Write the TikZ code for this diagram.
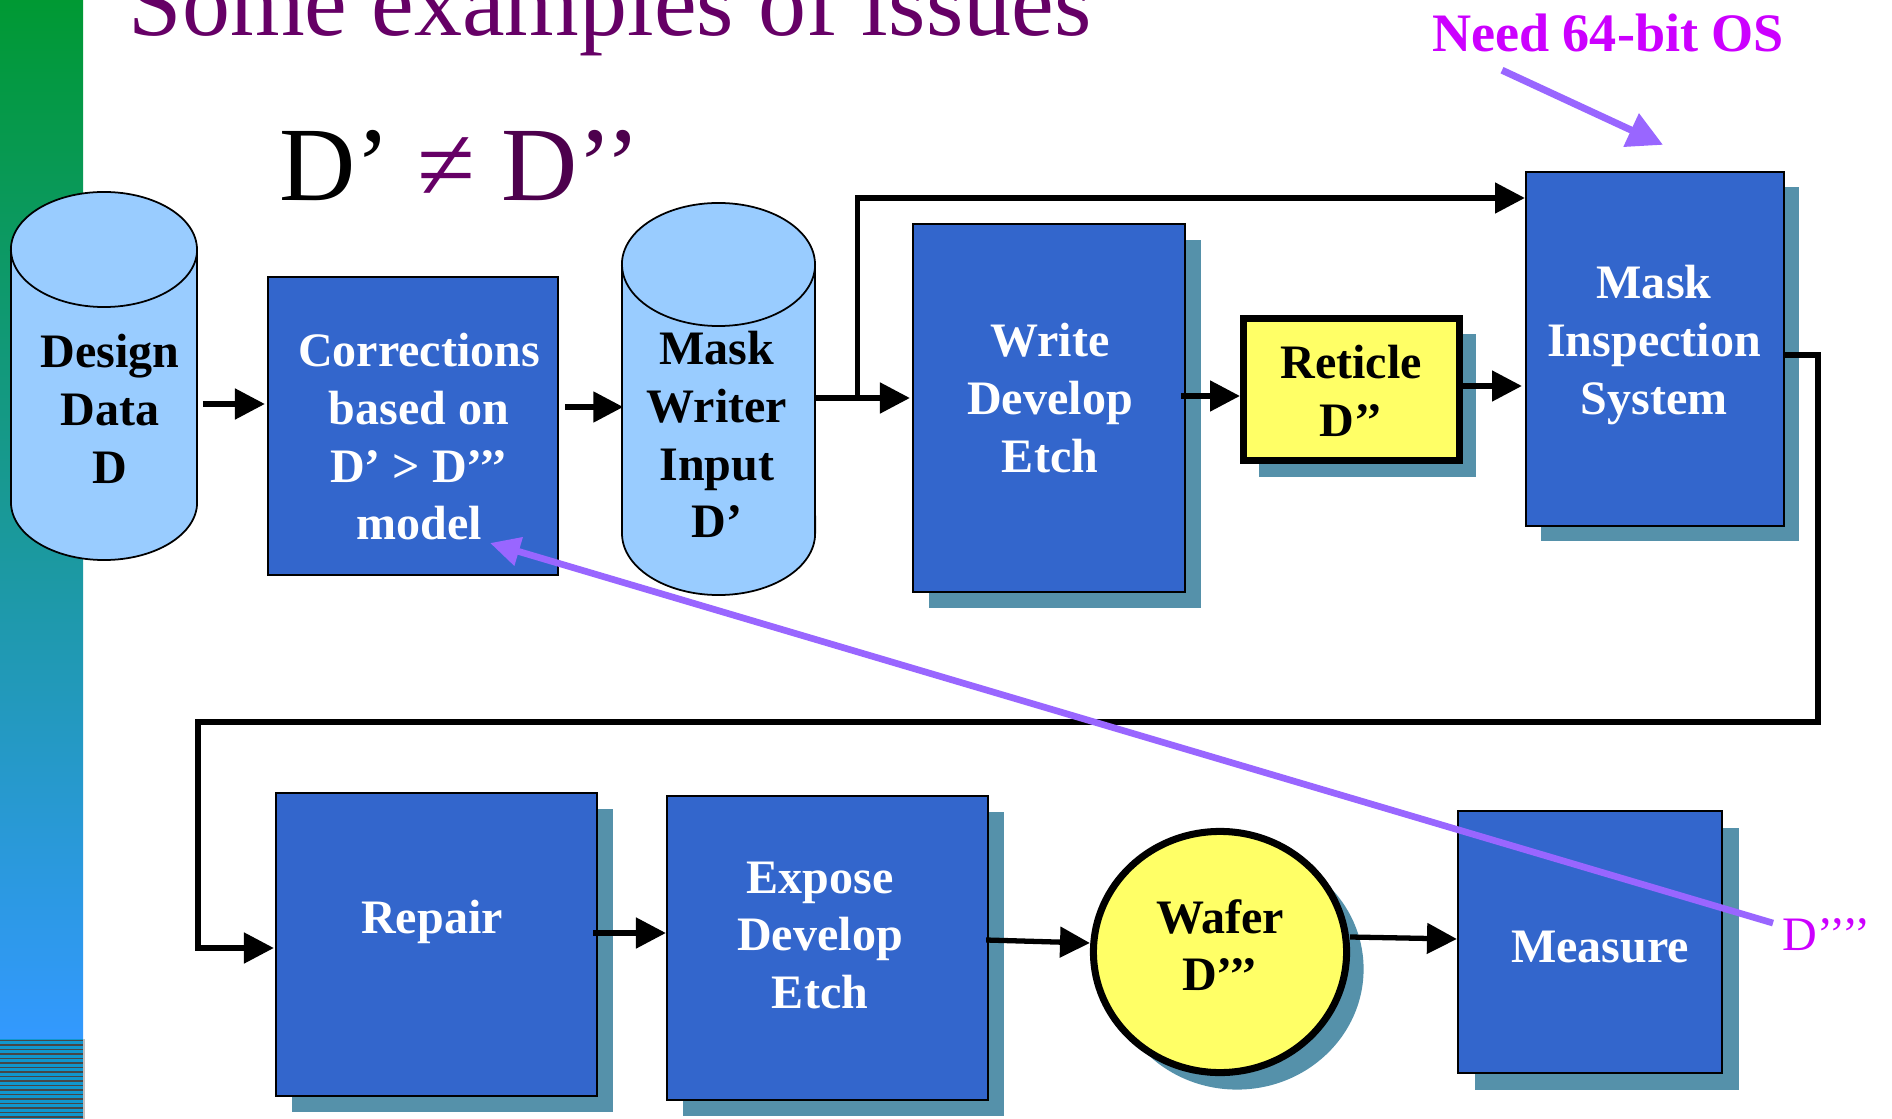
\documentclass[tikz,border=0pt]{standalone}
\usepackage{fontspec}
\setmainfont{Liberation Serif}[Ligatures=TeXOff]
\usetikzlibrary{arrows.meta,calc,shadows,shapes.geometric}
\definecolor{boxblue}{RGB}{51,102,204}
\definecolor{cylblue}{RGB}{153,204,255}
\definecolor{boxyellow}{RGB}{255,255,102}
\definecolor{shadowc}{RGB}{85,145,170}
\definecolor{titlepurple}{RGB}{102,0,102}
\definecolor{dpurple}{RGB}{77,0,77}
\definecolor{magentatxt}{RGB}{204,0,255}
\definecolor{arrowpurple}{RGB}{153,102,255}
\definecolor{bargreen}{RGB}{0,153,51}
\definecolor{barmid}{RGB}{30,152,180}
\definecolor{barblue}{RGB}{51,153,255}
\definecolor{stripebg}{RGB}{16,150,205}
\definecolor{stripeline}{RGB}{70,70,70}
\newcommand{\lblfont}{\fontsize{13.66}{16.36}\selectfont\bfseries}
\newcommand{\mylines}[1]{\begin{tabular}[t]{@{}c@{}}#1\end{tabular}}
\begin{document}
\begin{tikzpicture}[x=0.01cm,y=0.01cm,
  shad/.style={drop shadow={shadow xshift=#1,shadow yshift=-#1,fill=shadowc,opacity=1}},
  shad/.default=0.16cm,
  bluebox/.style={rectangle,draw=black,line width=0.6pt,fill=boxblue,inner sep=0pt},
  yellowbox/.style={rectangle,draw=black,line width=2pt,fill=boxyellow,inner sep=0pt},
  cyl/.style={draw=black,line width=0.5pt,fill=cylblue},
  anchorbox/.style={rectangle,inner sep=0pt,draw=none},
  wtxt/.style={inner sep=0pt,anchor=base,text=white,font=\lblfont},
  btxt/.style={inner sep=0pt,anchor=base,text=black,font=\lblfont},
  arr/.style={draw=black,line width=1.5pt,-{Triangle[length=8.5pt,width=8.5pt]}},
  parrbig/.style={draw=arrowpurple,line width=2pt,-{Triangle[length=10pt,width=10pt]}},
  parrsmall/.style={draw=arrowpurple,line width=1.9pt,-{Triangle[length=8.5pt,width=8pt]}}
]
\useasboundingbox (0,0) rectangle (1892,-1119);
\fill[white] (0,0) rectangle (1892,-1119);

% left bar
\shade[top color=bargreen,middle color=barmid,bottom color=barblue] (0,0) rectangle (83,-1039);
\fill[stripebg] (0,-1039) rectangle (83,-1119);
\foreach \k in {0,...,17} \draw[stripeline,line width=0.4pt] (0,-1040.5-4.5*\k) -- (83,-1040.5-4.5*\k);
\draw[gray!50,line width=0.6pt] (84,-1039) -- (84,-1119);

% titles
\node[anchor=base west,inner sep=0pt,text=titlepurple,font=\fontsize{27.3}{32}\selectfont] (title) at (128,-36) {Some examples of issues};
\node[anchor=base west,inner sep=0pt,font=\fontsize{30}{36}\selectfont] (neq) at (279,-201) {D’ \textcolor{titlepurple}{≠} \textcolor{dpurple}{D’’}};
\node[anchor=base,inner sep=0pt,text=magentatxt,font=\fontsize{15.4}{18}\selectfont\bfseries] (need) at (1608,-52) {Need 64-bit OS};
\node[anchor=base west,inner sep=0pt,text=magentatxt,font=\fontsize{13.66}{16}\selectfont] (dq) at (1782,-950) {D’’’’};

% cylinders
\filldraw[cyl] (11,-249.5) -- (11,-502.5) arc[start angle=180,end angle=360,x radius=0.93cm,y radius=0.575cm] -- (197,-249.5) arc[start angle=0,end angle=180,x radius=0.93cm,y radius=0.575cm] -- cycle;
\draw[cyl,fill=none] (11,-249.5) arc[start angle=180,end angle=360,x radius=0.93cm,y radius=0.575cm];
\node[anchorbox,minimum width=1.86cm,minimum height=3.68cm] (dd) at (104,-376) {};

\filldraw[cyl] (622,-264.5) -- (622,-533.5) arc[start angle=180,end angle=360,x radius=0.965cm,y radius=0.615cm] -- (815,-264.5) arc[start angle=0,end angle=180,x radius=0.965cm,y radius=0.615cm] -- cycle;
\draw[cyl,fill=none] (622,-264.5) arc[start angle=180,end angle=360,x radius=0.965cm,y radius=0.615cm];
\node[anchorbox,minimum width=1.93cm,minimum height=3.92cm] (mwi) at (718.5,-399) {};

% boxes
\node[bluebox,minimum width=2.90cm,minimum height=2.98cm] (corr) at (413,-426) {};
\node[bluebox,shad,minimum width=2.72cm,minimum height=3.68cm] (wde) at (1049,-408) {};
\node[yellowbox,shad,minimum width=2.16cm,minimum height=1.42cm] (ret) at (1351.5,-389.5) {};
\node[bluebox,shad=0.15cm,minimum width=2.58cm,minimum height=3.54cm] (mis) at (1655,-349) {};
\node[bluebox,shad,minimum width=3.21cm,minimum height=3.03cm] (rep) at (436.5,-944.5) {};
\node[bluebox,shad,minimum width=3.21cm,minimum height=3.04cm] (ede) at (827.5,-948) {};
\node[ellipse,draw=black,line width=2pt,fill=boxyellow,shad=0.17cm,inner sep=0pt,minimum width=2.53cm,minimum height=2.41cm] (waf) at (1220,-952) {};
\node[bluebox,shad=0.17cm,minimum width=2.64cm,minimum height=2.62cm] (mea) at (1590,-942) {};

% labels
\node[btxt] (ddT) at (110,-368) {\mylines{Design\\Data\\D}};
\node[wtxt] (corrT) at (419,-367) {\mylines{Corrections\\based on\\D’ > D’’’\\model}};
\node[btxt] (mwiT) at (717,-365) {\mylines{Mask\\Writer\\Input\\D’}};
\node[wtxt] (wdeT) at (1050,-357) {\mylines{Write\\Develop\\Etch}};
\node[btxt] (retT) at (1351,-379) {\mylines{Reticle\\D’’}};
\node[wtxt] (misT) at (1654,-299) {\mylines{Mask\\Inspection\\System}};
\node[wtxt] (repT) at (432,-933) {Repair};
\node[wtxt] (edeT) at (820,-893) {\mylines{Expose\\Develop\\Etch}};
\node[btxt] (wafT) at (1220,-933) {\mylines{Wafer\\D’’’}};
\node[wtxt] (meaT) at (1600,-962) {Measure};

% connectors
\coordinate (turnR) at (1818,-722);
\coordinate (turnL) at (198,-722);
\draw[arr] ($(dd.east)+(5,-28)$) -- ($(corr.west)+(-2,22)$);
\draw[arr] ($(corr.east)+(6,19)$) -- ($(mwi.west)+(2,-8)$);
\draw[arr] ($(mwi.east)+(0,1)$) -- ($(wde.west)+(-2,10)$);
\draw[arr] ($(mwi.east)+(42,1)$) |- ($(mis.west)+(0,151)$);
\draw[arr] ($(wde.east)+(-5,12)$) -- ($(ret.west)+(0,-6.5)$);
\draw[arr] ($(ret.east)+(0,3.5)$) -- ($(mis.west)+(-3,-37)$);
\draw[arr] ($(mis.east)+(0,-6)$) -| (turnR) -- (turnL) |- ($(rep.west)+(-1,-3.5)$);
\draw[arr] ($(rep.east)+(-5,11.5)$) -- ($(ede.west)+(0,15)$);
\draw[arr] ($(ede.east)+(-3,8)$) -- ($(waf.west)+(0,9)$);
\draw[arr] ($(waf.east)+(0,15)$) -- ($(mea.west)+(0,3)$);

% purple annotation arrows
\draw[parrbig] ($(need.south)+(-106,-17)$) -- ($(mis.north)+(8,26)$);
\draw[parrsmall] ($(dq.west)+(-9,11)$) -- ($(corr.center)+(77,-117)$);
\end{tikzpicture}
\end{document}
